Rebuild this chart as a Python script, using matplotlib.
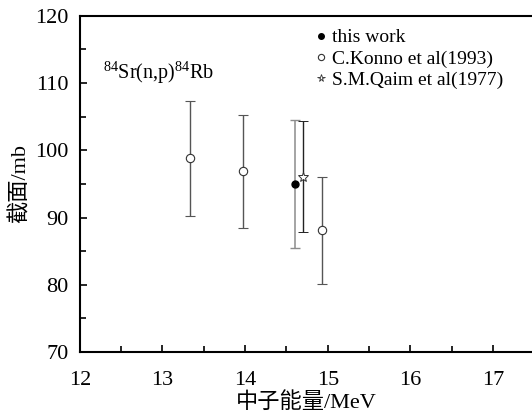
import matplotlib
matplotlib.use("Agg")
import matplotlib.pyplot as plt
from matplotlib.ticker import MultipleLocator
from matplotlib.lines import Line2D

plt.rcParams['font.family'] = ['Liberation Serif', 'Noto Sans CJK SC']
plt.rcParams['mathtext.fontset'] = 'custom'
plt.rcParams['mathtext.rm'] = 'Liberation Serif'

# this work
this_e = [14.6]
this_xs = [95.0]
this_err = [9.5]

# C.Konno et al (1993)
konno_e = [13.33, 13.98, 14.93]
konno_xs = [98.8, 96.9, 88.1]
konno_err = [8.6, 8.4, 8.0]

# S.M.Qaim et al (1977)
qaim_e = [14.7]
qaim_xs = [96.1]
qaim_err = [8.2]

fig = plt.figure(figsize=(5.32, 4.18), dpi=100)
ax = fig.add_axes([0.150, 0.158, 0.85, 0.804])

ax.errorbar(this_e, this_xs, yerr=this_err, fmt='o', color='black', ms=5,
            ecolor='#8c8c8c', elinewidth=1.1, capsize=3.5, capthick=1)
ax.errorbar(konno_e, konno_xs, yerr=konno_err, fmt='o', mfc='white', mec='#333333', ms=6,
            mew=0.8, ecolor='#555555', elinewidth=1, capsize=3.5, capthick=1)
ax.errorbar(qaim_e, qaim_xs, yerr=qaim_err, fmt='*', mfc='white', mec='#333333', ms=7,
            mew=0.7, ecolor='#222222', elinewidth=1, capsize=3.5, capthick=1)

ax.set_xlim(12, 17.47)
ax.set_ylim(70, 120)
ax.xaxis.set_major_locator(MultipleLocator(1))
ax.xaxis.set_minor_locator(MultipleLocator(0.5))
ax.yaxis.set_major_locator(MultipleLocator(10))
ax.yaxis.set_minor_locator(MultipleLocator(5))
ax.tick_params(which='both', direction='in', labelsize=16, width=1.2)
ax.tick_params(axis='x', pad=14)
ax.tick_params(axis='y', pad=8)
ax.tick_params(which='major', length=5)
ax.tick_params(which='minor', length=4)
for s in ax.spines.values():
    s.set_linewidth(1.5)
ax.spines['right'].set_visible(False)

ax.set_xlabel('中子能量/MeV', fontsize=16, labelpad=1)
ax.set_ylabel('截面/mb', fontsize=16, labelpad=3)

ax.text(12.28, 111.5, r'$^{84}$Sr(n,p)$^{84}$Rb', fontsize=14.5, va='center')

handles = [
    Line2D([], [], ls='none', marker='o', color='black', ms=4),
    Line2D([], [], ls='none', marker='o', mfc='white', mec='#333333', ms=4.5, mew=0.8),
    Line2D([], [], ls='none', marker='*', mfc='white', mec='#333333', ms=5.5, mew=0.6),
]
labels = ['this work', 'C.Konno et al(1993)', 'S.M.Qaim et al(1977)']
ax.legend(handles, labels, loc='upper left', bbox_to_anchor=(0.485, 1.005), frameon=False,
          fontsize=14, handletextpad=0.15, handlelength=0.8, labelspacing=0.18,
          borderaxespad=0.35)

fig.savefig('out.png', dpi=100)
